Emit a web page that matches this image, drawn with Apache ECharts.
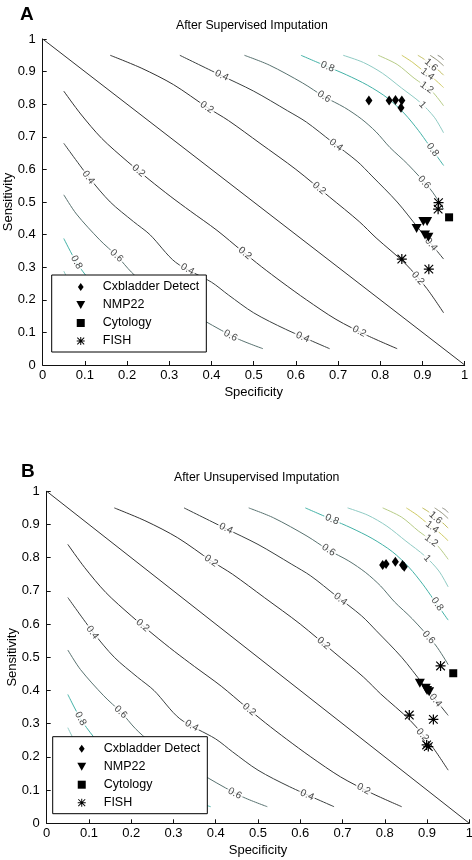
<!DOCTYPE html>
<html>
<head>
<meta charset="utf-8">
<script src="https://cdn.jsdelivr.net/npm/echarts@6/dist/echarts.min.js"></script>
<style>html,body{margin:0;padding:0;background:#fff}#c{width:472px;height:860px}</style>
</head>
<body>
<div id="c"></div>
<script>
// ---------------- data ----------------
const tickLabels = ['0','0.1','0.2','0.3','0.4','0.5','0.6','0.7','0.8','0.9','1'];
const panelLetters = ['A','B'];
const panelTitles = ['After Supervised Imputation','After Unsupervised Imputation'];
const xAxisTitle = 'Specificity';
const yAxisTitle = 'Sensitivity';
const seriesNames = ['Cxbladder Detect','NMP22','Cytology','FISH'];

// markers [specificity, sensitivity]
const cxbladderSupervised = [[0.773,0.811],[0.821,0.811],[0.836,0.813],[0.851,0.811],[0.849,0.789]];
const nmp22Supervised = [[0.902,0.44],[0.911,0.44],[0.886,0.419],[0.906,0.399],[0.914,0.392]];
const cytologySupervised = [[0.963,0.453]];
const fishSupervised = [[0.938,0.498],[0.937,0.478],[0.851,0.325],[0.915,0.294]];

const cxbladderUnsupervised = [[0.795,0.778],[0.803,0.781],[0.825,0.788],[0.842,0.778],[0.846,0.773]];
const nmp22Unsupervised = [[0.883,0.422],[0.897,0.407],[0.905,0.396],[0.9,0.4]];
const cytologyUnsupervised = [[0.962,0.452]];
const fishUnsupervised = [[0.932,0.474],[0.858,0.326],[0.915,0.313],[0.899,0.236],[0.903,0.231]];

// contour lines
const zeroLine = [[0,1],[1,0]];
const upper02 = [[0.16,0.95],[0.235,0.91],[0.31,0.86],[0.39,0.79],[0.44,0.75],[0.515,0.68],[0.6,0.6],[0.68,0.515],[0.75,0.44],[0.79,0.39],[0.86,0.31],[0.91,0.235],[0.95,0.16]];
const upper04 = [[0.325,0.95],[0.42,0.89],[0.5,0.84],[0.58,0.78],[0.625,0.745],[0.685,0.685],[0.745,0.625],[0.78,0.58],[0.84,0.5],[0.89,0.42],[0.95,0.325]];
const upper06 = [[0.478,0.95],[0.537,0.92],[0.616,0.865],[0.667,0.823],[0.715,0.79],[0.755,0.755],[0.79,0.715],[0.823,0.667],[0.865,0.616],[0.92,0.537],[0.95,0.478]];
const upper08 = [[0.612,0.95],[0.675,0.915],[0.72,0.89],[0.77,0.858],[0.818,0.818],[0.858,0.77],[0.89,0.72],[0.915,0.675],[0.95,0.612]];
const upper10 = [[0.712,0.95],[0.76,0.928],[0.805,0.895],[0.85,0.85],[0.895,0.805],[0.928,0.76],[0.95,0.712]];
const upper12 = [[0.795,0.95],[0.84,0.922],[0.88,0.88],[0.922,0.84],[0.95,0.795]];
const upper14 = [[0.851,0.95],[0.877,0.928],[0.902,0.902],[0.928,0.877],[0.95,0.851]];
const upper16 = [[0.889,0.95],[0.905,0.937],[0.92,0.92],[0.937,0.905],[0.95,0.889]];
const upper18 = [[0.918,0.95],[0.935,0.935],[0.95,0.918]];
const upper20 = [[0.936,0.95],[0.944,0.944],[0.95,0.936]];
const lower02 = [[0.05,0.84],[0.09,0.77],[0.14,0.695],[0.2,0.625],[0.254,0.567],[0.302,0.518],[0.35,0.472],[0.413,0.413],[0.472,0.35],[0.518,0.302],[0.567,0.254],[0.625,0.2],[0.695,0.14],[0.77,0.09],[0.84,0.05]];
const lower04 = [[0.05,0.68],[0.11,0.575],[0.16,0.5],[0.215,0.44],[0.254,0.4],[0.315,0.315],[0.4,0.254],[0.44,0.215],[0.5,0.16],[0.575,0.11],[0.68,0.05]];
const lower06 = [[0.05,0.522],[0.08,0.463],[0.135,0.384],[0.177,0.333],[0.21,0.285],[0.245,0.245],[0.285,0.21],[0.333,0.177],[0.384,0.135],[0.463,0.08],[0.522,0.05]];
const lower08 = [[0.05,0.388],[0.08,0.315],[0.11,0.262],[0.142,0.215],[0.18,0.18],[0.215,0.142],[0.262,0.11],[0.315,0.08],[0.388,0.05]];
const lower10 = [[0.05,0.288],[0.07,0.24],[0.1,0.195],[0.15,0.15],[0.195,0.1],[0.24,0.07],[0.288,0.05]];
const lower12 = [[0.05,0.205],[0.078,0.16],[0.12,0.12],[0.16,0.078],[0.205,0.05]];
const lower14 = [[0.05,0.149],[0.072,0.123],[0.098,0.098],[0.123,0.072],[0.149,0.05]];
const lower16 = [[0.05,0.111],[0.063,0.095],[0.08,0.08],[0.095,0.063],[0.111,0.05]];
const lower18 = [[0.05,0.082],[0.065,0.065],[0.082,0.05]];
const lower20 = [[0.05,0.064],[0.056,0.056],[0.064,0.05]];

// contour level labels [specificity, sensitivity, text]
const contourLabels = [
  [0.227,0.596,'0.2'],[0.479,0.343,'0.2'],[0.75,0.103,'0.2'],
  [0.108,0.575,'0.4'],[0.343,0.294,'0.4'],[0.616,0.085,'0.4'],
  [0.175,0.335,'0.6'],[0.445,0.09,'0.6'],
  [0.08,0.315,'0.8'],
  [0.389,0.79,'0.2'],[0.655,0.542,'0.2'],[0.889,0.266,'0.2'],
  [0.424,0.888,'0.4'],[0.695,0.675,'0.4'],[0.92,0.37,'0.4'],
  [0.667,0.823,'0.6'],[0.904,0.56,'0.6'],
  [0.675,0.915,'0.8'],[0.924,0.66,'0.8'],
  [0.9,0.798,'1'],[0.91,0.851,'1.2'],[0.912,0.892,'1.4'],[0.92,0.92,'1.6']
];

// ---------------- styles / layout ----------------
const FONT = '"Liberation Sans", Arial, Helvetica, sans-serif';
const contourSets = [
  [zeroLine,'0'],
  [upper02,'0.2'],[upper04,'0.4'],[upper06,'0.6'],[upper08,'0.8'],[upper10,'1'],[upper12,'1.2'],[upper14,'1.4'],[upper16,'1.6'],[upper18,'1.8'],[upper20,'2'],
  [lower02,'0.2'],[lower04,'0.4'],[lower06,'0.6'],[lower08,'0.8'],[lower10,'1'],[lower12,'1.2'],[lower14,'1.4'],[lower16,'1.6'],[lower18,'1.8'],[lower20,'2']
];
const levelColor = {'0':'#333333','0.2':'#333333','0.4':'#3a4040','0.6':'#587270','0.8':'#43b2a7','1':'#8fcbc4','1.2':'#b7cc86','1.4':'#cfca60','1.6':'#bfbb58','1.8':'#8f8f78','2':'#8a8a80'};

const ICON_DIAMOND = 'path://M5,0L10,7L5,14L0,7Z';
const ICON_TRI = 'path://M0,0L10,0L5,9Z';
const ICON_SQUARE = 'path://M0,0L10,0L10,10L0,10Z';
const ICON_STAR = 'path://M4.4,0L5.6,0L5.6,10L4.4,10Z M0,4.4L10,4.4L10,5.6L0,5.6Z M1.1,0.3L9.7,8.9L8.9,9.7L0.3,1.1Z M8.9,0.3L9.7,1.1L1.1,9.7L0.3,8.9Z';
const markerStyle = [
  {symbol: ICON_DIAMOND, size: [7,10]},
  {symbol: ICON_TRI, size: [10,9]},
  {symbol: ICON_SQUARE, size: [8,8]},
  {symbol: ICON_STAR, size: [10,10]}
];

const panels = [
  {grid:{left:42.7, top:39, width:422, height:326}, letter:{left:20, top:5}, title:{left:176, top:19.5}, legend:{left:51.7, top:275},
   markers:[cxbladderSupervised, nmp22Supervised, cytologySupervised, fishSupervised]},
  {grid:{left:46.7, top:491.3, width:422.6, height:332}, letter:{left:21, top:462}, title:{left:174, top:471.5}, legend:{left:52.7, top:736.7},
   markers:[cxbladderUnsupervised, nmp22Unsupervised, cytologyUnsupervised, fishUnsupervised]}
];

// ---------------- option ----------------
const option = {
  animation: false,
  backgroundColor: '#fff',
  title: [], grid: [], xAxis: [], yAxis: [], legend: [], series: []
};

panels.forEach((p, g) => {
  option.title.push({text: panelLetters[g], left: p.letter.left, top: p.letter.top, padding: 0,
    textStyle: {fontFamily: FONT, fontSize: 19, fontWeight: 'bold', color: '#000'}});
  option.title.push({text: panelTitles[g], left: p.title.left, top: p.title.top, padding: 0,
    textStyle: {fontFamily: FONT, fontSize: 12.3, fontWeight: 'normal', color: '#000'}});
  option.grid.push(Object.assign({containLabel: false, outerBoundsMode: 'none', show: false}, p.grid));
  option.xAxis.push({
    gridIndex: g, type: 'value', min: 0, max: 1, interval: 0.1,
    name: xAxisTitle, nameLocation: 'middle', nameGap: 21, nameMoveOverlap: false,
    nameTextStyle: {fontFamily: FONT, fontSize: 13, color: '#000'},
    axisLine: {show: true, onZero: false, lineStyle: {color: '#111', width: 1}},
    axisTick: {show: true, inside: true, length: 4, lineStyle: {color: '#111'}},
    axisLabel: {show: true, margin: 4, fontFamily: FONT, fontSize: 13, color: '#000',
      formatter: v => tickLabels[Math.round(v * 10)]},
    splitLine: {show: false}
  });
  option.yAxis.push({
    gridIndex: g, type: 'value', min: 0, max: 1, interval: 0.1,
    name: yAxisTitle, nameLocation: 'middle', nameGap: 28, nameMoveOverlap: false,
    nameTextStyle: {fontFamily: FONT, fontSize: 13, color: '#000'},
    axisLine: {show: true, onZero: false, lineStyle: {color: '#111', width: 1}},
    axisTick: {show: true, inside: true, length: 4, lineStyle: {color: '#111'}},
    axisLabel: {show: true, margin: 7, fontFamily: FONT, fontSize: 13, color: '#000',
      formatter: v => tickLabels[Math.round(v * 10)]},
    splitLine: {show: false}
  });
  option.legend.push({
    orient: 'vertical', left: p.legend.left, top: p.legend.top,
    padding: [3, 7, 2, 24.6], itemGap: 0, itemWidth: 34, itemHeight: 8,
    symbolKeepAspect: true, selectedMode: false, z: 20,
    backgroundColor: '#fff', borderColor: '#000', borderWidth: 1, borderRadius: 0,
    textStyle: {fontFamily: FONT, fontSize: 12.5, color: '#000', lineHeight: 18},
    data: seriesNames.map((n, i) => ({name: n, icon: markerStyle[i].symbol}))
  });
  contourSets.forEach(([pts, lvl]) => {
    option.series.push({
      type: 'line', xAxisIndex: g, yAxisIndex: g, data: pts, symbol: 'none', showSymbol: false,
      smooth: pts.length > 2 ? 0.3 : false, silent: true, z: 2,
      lineStyle: {color: levelColor[lvl], width: 1}
    });
  });
  option.series.push({
    id: 'labels' + g, type: 'scatter', xAxisIndex: g, yAxisIndex: g, symbolSize: 1, silent: true, z: 3,
    itemStyle: {color: 'rgba(0,0,0,0)'},
    label: {show: true, position: 'inside', fontFamily: FONT, fontSize: 10, color: '#111',
      backgroundColor: '#fff', padding: [0, 1.5], formatter: prm => prm.data.text},
    data: contourLabels.map(l => ({value: [l[0], l[1]], text: l[2]}))
  });
  seriesNames.forEach((n, i) => {
    option.series.push({
      name: n, type: 'scatter', xAxisIndex: g, yAxisIndex: g, data: p.markers[i],
      symbol: markerStyle[i].symbol, symbolSize: markerStyle[i].size, z: 5,
      itemStyle: {color: '#000', opacity: 1}, silent: true
    });
  });
});

const chart = echarts.init(document.getElementById('c'), null, {renderer: 'canvas', width: 472, height: 860});
chart.setOption(option);

// rotate each contour label along its line
function distSeg(p, a, b) {
  const dx = b[0] - a[0], dy = b[1] - a[1];
  const L = dx * dx + dy * dy;
  let t = L ? ((p[0] - a[0]) * dx + (p[1] - a[1]) * dy) / L : 0;
  t = Math.max(0, Math.min(1, t));
  const x = a[0] + t * dx - p[0], y = a[1] + t * dy - p[1];
  return Math.sqrt(x * x + y * y);
}
panels.forEach((p, g) => {
  const conv = v => chart.convertToPixel({gridIndex: g}, v);
  const data = contourLabels.map(l => {
    const pp = conv([l[0], l[1]]);
    let best = null, bd = Infinity;
    contourSets.forEach(([pts, lvl]) => {
      if (lvl === '0') return;
      for (let i = 0; i < pts.length - 1; i++) {
        const a = conv(pts[i]), b = conv(pts[i + 1]);
        const d = distSeg(pp, a, b);
        if (d < bd) { bd = d; best = [a, b]; }
      }
    });
    let ang = Math.atan2(-(best[1][1] - best[0][1]), best[1][0] - best[0][0]) * 180 / Math.PI;
    if (ang > 90) ang -= 180;
    if (ang < -90) ang += 180;
    return {value: [l[0], l[1]], text: l[2], label: {rotate: ang}};
  });
  chart.setOption({series: [{id: 'labels' + g, data: data}]});
});
</script>
</body>
</html>
